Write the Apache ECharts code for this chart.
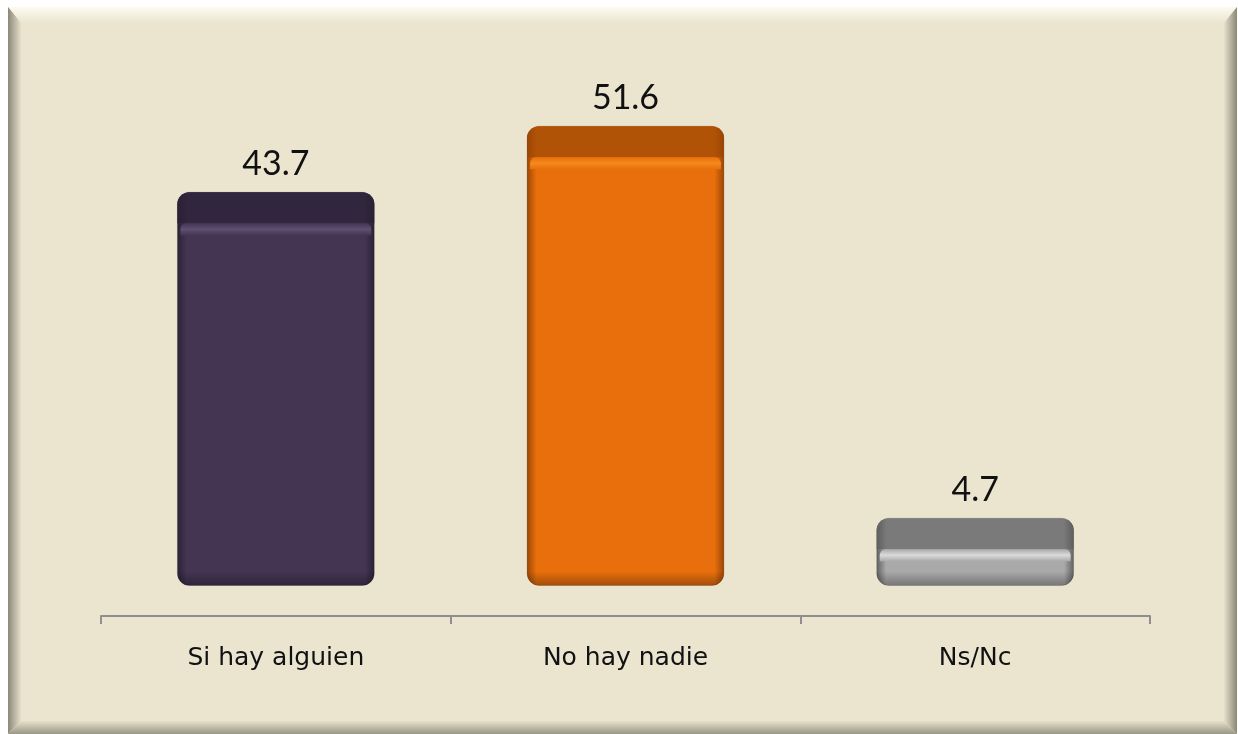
<!DOCTYPE html>
<html>
<head>
<meta charset="utf-8">
<script src="https://cdn.jsdelivr.net/npm/echarts@6/dist/echarts.min.js"></script>
<style>
  html, body { margin: 0; padding: 0; background: #ffffff; }
  #main { width: 1238px; height: 734px; }
</style>
</head>
<body>
<div id="main"></div>
<script>
var categories = ['Si hay alguien', 'No hay nadie', 'Ns/Nc'];
var values = [43.7, 51.6, 4.7];

// colores de cada barra: tapa, cuerpo, brillo, borde
var palettes = [
  { cap: '#30263d', body: '#443553', shine: '#5f5072', edge: '#2a2135' },
  { cap: '#b15306', body: '#e86f0c', shine: '#f58a1c', edge: '#9a4504' },
  { cap: '#7a7a7a', body: '#a9a9a9', shine: '#dadada', edge: '#5e5e5e' }
];

var myChart = echarts.init(document.getElementById('main'));

var seriesData = values.map(function (v, i) { return [i, v]; });

function hGrad(edge, mid) {
  return new echarts.graphic.LinearGradient(0, 0, 1, 0, [
    { offset: 0, color: edge },
    { offset: 0.05, color: mid },
    { offset: 0.95, color: mid },
    { offset: 1, color: edge }
  ]);
}

function renderBar(params, api) {
  var idx = api.value(0);
  var val = api.value(1);
  var top = api.coord([idx, val]);
  var zero = api.coord([idx, 0]);
  var w = api.size([1, 0])[0] * 0.563;
  var x = top[0] - w / 2;
  var y = top[1];
  var bottom = zero[1] + 28;
  var h = bottom - y;
  var p = palettes[params.dataIndex];
  var capH = 31;

  return {
    type: 'group',
    children: [
      {
        type: 'rect',
        shape: { x: x, y: y, width: w, height: h, r: 12 },
        style: { fill: hGrad(p.edge, p.body), stroke: 'rgba(0,0,0,0.15)', lineWidth: 1 }
      },
      {
        type: 'rect',
        shape: { x: x, y: y, width: w, height: capH, r: [12, 12, 0, 0] },
        style: { fill: hGrad(p.edge, p.cap) }
      },
      {
        type: 'rect',
        shape: { x: x + 3, y: y + capH, width: w - 6, height: 12, r: [6, 6, 0, 0] },
        style: {
          fill: new echarts.graphic.LinearGradient(0, 0, 0, 1, [
            { offset: 0, color: p.body },
            { offset: 0.5, color: p.shine },
            { offset: 1, color: p.body }
          ])
        }
      },
      {
        type: 'rect',
        shape: { x: x, y: bottom - 14, width: w, height: 14, r: [0, 0, 12, 12] },
        style: {
          fill: new echarts.graphic.LinearGradient(0, 0, 0, 1, [
            { offset: 0, color: 'rgba(0,0,0,0)' },
            { offset: 1, color: 'rgba(0,0,0,0.3)' }
          ])
        }
      },
      {
        type: 'text',
        style: {
          text: String(val),
          x: top[0],
          y: y - 28,
          align: 'center',
          verticalAlign: 'middle',
          fill: '#111111',
          font: '34px "Century Gothic", Lato, sans-serif'
        }
      }
    ]
  };
}

// marco biselado del fondo
var L = 8, T = 7, R = 1237, B = 734, bv = 13;
var frame = [
  { type: 'rect', shape: { x: L, y: T, width: R - L, height: B - T }, style: { fill: '#ebe5d0' }, z: -10 },
  {
    type: 'polygon', z: -9,
    shape: { points: [[L, T], [R, T], [R - bv, T + bv + 3], [L + bv, T + bv + 3]] },
    style: { fill: new echarts.graphic.LinearGradient(0, 0, 0, 1, [
      { offset: 0, color: '#fcfbf0' }, { offset: 1, color: '#ebe5d0' }]) }
  },
  {
    type: 'polygon', z: -9,
    shape: { points: [[L, T], [L + bv, T + bv + 3], [L + bv, B - bv], [L, B]] },
    style: { fill: new echarts.graphic.LinearGradient(0, 0, 1, 0, [
      { offset: 0, color: '#8b8878' }, { offset: 1, color: '#e6e0cb' }]) }
  },
  {
    type: 'polygon', z: -9,
    shape: { points: [[R, T], [R, B], [R - bv, B - bv], [R - bv, T + bv + 3]] },
    style: { fill: new echarts.graphic.LinearGradient(1, 0, 0, 0, [
      { offset: 0, color: '#8b8878' }, { offset: 1, color: '#e6e0cb' }]) }
  },
  {
    type: 'polygon', z: -9,
    shape: { points: [[L, B], [L + bv, B - bv], [R - bv, B - bv], [R, B]] },
    style: { fill: new echarts.graphic.LinearGradient(0, 1, 0, 0, [
      { offset: 0, color: '#9a9786' }, { offset: 1, color: '#e6e0cb' }]) }
  }
];

var option = {
  animation: false,
  backgroundColor: '#ffffff',
  graphic: frame,
  grid: { left: 101, right: 88, top: 56, bottom: 118 },
  xAxis: {
    type: 'category',
    data: categories,
    axisLine: { onZero: false, lineStyle: { color: '#8f8f8f', width: 2 } },
    axisTick: { show: true, length: 8, lineStyle: { color: '#8f8f8f', width: 2 } },
    axisLabel: {
      margin: 30,
      fontSize: 25,
      color: '#111111',
      fontFamily: '"Century Gothic", "DejaVu Sans", sans-serif'
    }
  },
  yAxis: {
    type: 'value',
    min: -7,
    max: 60,
    show: false,
    splitLine: { show: false }
  },
  series: [
    {
      type: 'custom',
      renderItem: renderBar,
      encode: { x: 0, y: 1 },
      data: seriesData,
      z: 3
    }
  ]
};

myChart.setOption(option);
</script>
</body>
</html>
